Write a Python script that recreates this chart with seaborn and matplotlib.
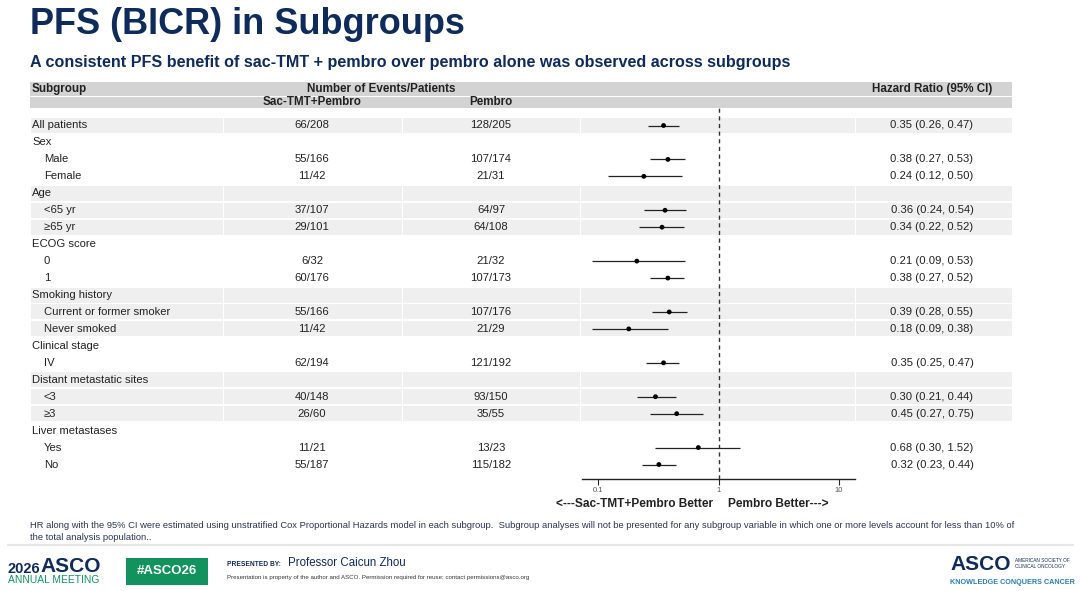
import numpy as np
import pandas as pd
import matplotlib
matplotlib.use("Agg")
import matplotlib.pyplot as plt
from matplotlib.patches import Rectangle
import seaborn as sns

# ==========================
# DATA
# ==========================

labels = [
    "All patients", "Sex", "Male", "Female", "Age", "<65 yr", "\u226565 yr",
    "ECOG score", "0", "1", "Smoking history", "Current or former smoker",
    "Never smoked", "Clinical stage", "IV", "Distant metastatic sites",
    "<3", "\u22653", "Liver metastases", "Yes", "No",
]
indent = [0, 0, 1, 1, 0, 1, 1, 0, 1, 1, 0, 1, 1, 0, 1, 0, 1, 1, 0, 1, 1]
group = [0, 1, 1, 1, 2, 2, 2, 3, 3, 3, 4, 4, 4, 5, 5, 6, 6, 6, 7, 7, 7]

sac_events = ["66/208", "", "55/166", "11/42", "", "37/107", "29/101",
              "", "6/32", "60/176", "", "55/166", "11/42", "", "62/194",
              "", "40/148", "26/60", "", "11/21", "55/187"]
pem_events = ["128/205", "", "107/174", "21/31", "", "64/97", "64/108",
              "", "21/32", "107/173", "", "107/176", "21/29", "", "121/192",
              "", "93/150", "35/55", "", "13/23", "115/182"]

hr = [0.35, None, 0.38, 0.24, None, 0.36, 0.34, None, 0.21, 0.38, None,
      0.39, 0.18, None, 0.35, None, 0.30, 0.45, None, 0.68, 0.32]
lo = [0.26, None, 0.27, 0.12, None, 0.24, 0.22, None, 0.09, 0.27, None,
      0.28, 0.09, None, 0.25, None, 0.21, 0.27, None, 0.30, 0.23]
hi = [0.47, None, 0.53, 0.50, None, 0.54, 0.52, None, 0.53, 0.52, None,
      0.55, 0.38, None, 0.47, None, 0.44, 0.75, None, 1.52, 0.44]

df = pd.DataFrame({"label": labels, "hr": hr, "lo": lo, "hi": hi})
df["row"] = np.arange(len(df))
est = df.dropna()

# ==========================
# STYLE
# ==========================

sns.set_style("white")
plt.rcParams["font.family"] = ["Liberation Sans", "DejaVu Sans"]

NAVY = "#0f2b5b"
TXT = "#222222"
W, H = 1080, 591

fig = plt.figure(figsize=(W / 100, H / 100), dpi=100)
bg = fig.add_axes([0, 0, 1, 1])
bg.set_xlim(0, W)
bg.set_ylim(H, 0)
bg.axis("off")

# row layout (pixels)
row_y0 = 125.5
pitch = 16.95
band = 15
cols = [30, 223, 402, 580, 855, 1012]
ROW_FS = 8.1


def ry(i):
    return row_y0 + i * pitch


# ==========================
# TITLE
# ==========================

bg.text(30, 24.5, "PFS (BICR) in Subgroups", fontsize=26, fontweight="bold",
        color=NAVY, va="center", ha="left")
bg.text(30, 62, "A consistent PFS benefit of sac-TMT + pembro over pembro "
        "alone was observed across subgroups", fontsize=11.6,
        fontweight="bold", color=NAVY, va="center", ha="left")

# ==========================
# TABLE HEADER
# ==========================

for c0, c1 in zip(cols[:-1], cols[1:]):
    bg.add_patch(Rectangle((c0, 82), c1 - c0, 14, color="#d3d3d3", lw=0))
    bg.add_patch(Rectangle((c0, 97), c1 - c0, 11, color="#d3d3d3", lw=0))

hdr = dict(fontsize=8.4, fontweight="bold", color=TXT, va="center")
bg.text(32, 89, "Subgroup", ha="left", **hdr)
bg.text(381, 89, "Number of Events/Patients", ha="center", **hdr)
bg.text(312, 102, "Sac-TMT+Pembro", ha="center", **hdr)
bg.text(491, 102, "Pembro", ha="center", **hdr)
bg.text(932, 89, "Hazard Ratio (95% CI)", ha="center", **hdr)

# ==========================
# TABLE ROWS
# ==========================

for i, lab in enumerate(labels):
    y = ry(i)
    if group[i] % 2 == 0:
        for c0, c1 in zip(cols[:-1], cols[1:]):
            bg.add_patch(Rectangle((c0 + 0.5, y - band / 2), c1 - c0 - 1,
                                   band, color="#efefef", lw=0))
    bg.text(32 + 12 * indent[i], y, lab, fontsize=ROW_FS, color=TXT,
            va="center", ha="left")
    bg.text(312, y, sac_events[i], fontsize=ROW_FS, color=TXT,
            va="center", ha="center")
    bg.text(491, y, pem_events[i], fontsize=ROW_FS, color=TXT,
            va="center", ha="center")
    if hr[i] is not None:
        bg.text(932, y, f"{hr[i]:.2f} ({lo[i]:.2f}, {hi[i]:.2f})",
                fontsize=ROW_FS, color=TXT, va="center", ha="center")

# ==========================
# FOREST PLOT
# ==========================

ax_left, ax_right = 582, 855
ax_top, ax_bot = 108, 479
fa = fig.add_axes([ax_left / W, 1 - ax_bot / H,
                   (ax_right - ax_left) / W, (ax_bot - ax_top) / H])
fa.patch.set_alpha(0)
fa.set_xscale("log")
fa.set_xlim(0.1 * 10 ** (-16 / 120.5), 10 * 10 ** (16 / 120.5))
fa.set_ylim((ax_bot - row_y0) / pitch, (ax_top - row_y0) / pitch)

fa.axvline(1, color="#333333", lw=1.0, ls=(0, (3, 2.5)))
fa.hlines(est["row"], est["lo"], est["hi"], color="#222222", lw=0.9)
sns.scatterplot(data=est, x="hr", y="row", ax=fa, color="black", s=12,
                edgecolor="none", legend=False, zorder=3)

for s in ["top", "left", "right"]:
    fa.spines[s].set_visible(False)
fa.spines["bottom"].set_color("#222222")
fa.spines["bottom"].set_linewidth(1.0)
fa.set_yticks([])
fa.set_xticks([0.1, 1, 10])
fa.set_xticklabels(["0.1", "1", "10"])
fa.xaxis.set_minor_locator(matplotlib.ticker.NullLocator())
fa.tick_params(axis="x", direction="out", length=4, width=0.8,
               labelsize=5.5, labelcolor="#555555", pad=2, bottom=True)
fa.set_xlabel("")
fa.set_ylabel("")

bg.text(713, 504, "<---Sac-TMT+Pembro Better", fontsize=8.6,
        fontweight="bold", color=TXT, ha="right", va="center")
bg.text(728, 504, "Pembro Better--->", fontsize=8.6,
        fontweight="bold", color=TXT, ha="left", va="center")

# ==========================
# FOOTNOTE + FOOTER
# ==========================

note_font = ["Liberation Sans Narrow", "Liberation Sans", "DejaVu Sans"]
bg.text(30, 525, "HR along with the 95% CI were estimated using unstratified "
        "Cox Proportional Hazards model in each subgroup.  Subgroup analyses "
        "will not be presented for any subgroup variable in which one or more "
        "levels account for less than 10% of", fontsize=6.75, color="#2a3550",
        family=note_font, va="center", ha="left")
bg.text(30, 537, "the total analysis population..", fontsize=6.75,
        color="#2a3550", family=note_font, va="center", ha="left")

bg.plot([8, 1073], [545, 545], color="#e6e6e6", lw=1.5)

GREEN = "#12925c"
bg.text(8, 569, "2026", fontsize=10.5, fontweight="bold", color=NAVY,
        va="center", ha="left")
bg.text(40, 567, "ASCO", fontsize=15, fontweight="bold", color=NAVY,
        va="center", ha="left")
bg.text(8, 580, "ANNUAL MEETING", fontsize=7.4, color=GREEN,
        va="center", ha="left")
bg.add_patch(Rectangle((126, 558), 82, 27, color=GREEN, lw=0))
bg.text(167, 571.5, "#ASCO26", fontsize=9.5, fontweight="bold",
        color="white", va="center", ha="center")
bg.text(227, 564, "PRESENTED BY:", fontsize=4.8, fontweight="bold",
        color=NAVY, va="center", ha="left")
bg.text(288, 563, "Professor Caicun Zhou", fontsize=8.3, color=NAVY,
        family=note_font, va="center", ha="left")
bg.text(227, 578, "Presentation is property of the author and ASCO. "
        "Permission required for reuse; contact permissions@asco.org",
        fontsize=4.4, color="#333333", va="center", ha="left")

bg.text(950, 565, "ASCO", fontsize=15, fontweight="bold", color=NAVY,
        va="center", ha="left")
bg.text(1015, 561, "AMERICAN SOCIETY OF", fontsize=3.4, color=NAVY,
        va="center", ha="left")
bg.text(1015, 567, "CLINICAL ONCOLOGY", fontsize=3.4, color=NAVY,
        va="center", ha="left")
bg.text(950, 582, "KNOWLEDGE CONQUERS CANCER", fontsize=5.2,
        fontweight="bold", color="#2a7db5", va="center", ha="left")

plt.savefig("out.png", dpi=100)
